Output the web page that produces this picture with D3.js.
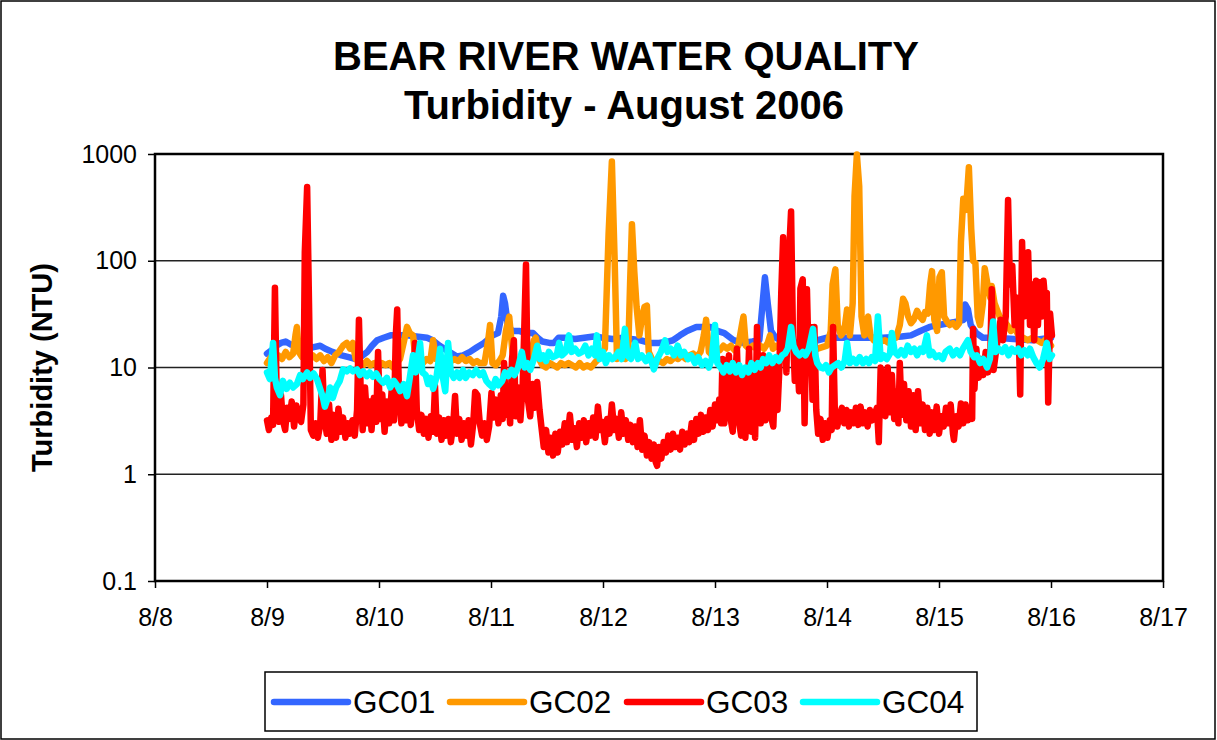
<!DOCTYPE html>
<html>
<head>
<meta charset="utf-8">
<script src="https://cdn.jsdelivr.net/npm/d3@7"></script>
<style>
  body { margin: 0; background: #fff; }
  svg { display: block; font-family: "Liberation Sans", Arial, sans-serif; }
</style>
</head>
<body>
<div id="chart"></div>
<script>
// readings: [hours after 8/9 00:00, turbidity NTU]
const gc01 = [[0,13.5],[1,14.5],[2,16],[3,17],[4,17.5],[5,16.5],[6,16],[8,15.5],[10,15.5],[11.4,16],[12.5,15],[14,14],[16,13],[17.5,12.5],[19,12],[20,12.5],[21.5,14],[22.5,16],[23.6,18],[25,19],[26.5,20],[28.5,20],[30,20],[32,19.5],[34.3,19],[35.5,18],[37,16],[38.5,14.5],[40.7,12.7],[42,13],[43.5,14],[45,15.5],[46.5,17],[48.4,20],[49.5,21],[50.2,30],[50.6,47],[51,40],[51.6,25],[52.5,22],[54,22],[55.5,21],[57,21],[58,19],[59,17.5],[60.5,17],[61.5,17],[62.5,19],[64,19],[66,18.5],[68,19],[70,19.5],[72,19],[74,18.5],[76.3,19],[78,18.5],[80,18],[82,17],[84,17],[86,17.5],[87,18],[88.5,20],[90,22],[92,24],[94,24],[95,24],[96.5,22],[98,21],[100,18],[102,17],[104,17.5],[105.5,18],[106.2,40],[106.7,70],[107.3,40],[108,22],[109,19],[110,18],[112,17.5],[114,17],[116,17.5],[118,18],[120,19],[124,19],[128,19],[132,19],[136,19.5],[138,20],[140,22],[142,24],[144,25],[146,26],[148,27],[149.3,28],[149.6,39],[150.2,35],[150.8,25],[152,21],[153.4,19],[156,19],[160,18.5],[164,18],[168,19]];

const gc02 = [[0,11],[0.8,12.5],[1.6,11.5],[2.4,13],[3.2,12],[4,14],[4.8,12.5],[5.6,13.5],[6.1,20],[6.4,24],[6.8,14],[7.5,12.5],[8.3,13.5],[9,12],[9.8,13],[10.6,12],[11.4,13],[12.2,11.5],[13,12.5],[13.8,11],[14.6,13],[15.4,14],[16.3,16],[17.1,17],[17.8,15],[18.4,17],[19,12],[19.8,11.5],[20.6,10.5],[21.4,11.5],[22.2,10.5],[23,11],[23.8,10],[24.6,11],[25.4,10.5],[26.2,11],[27,10],[27.8,11],[28.5,12],[29.4,18],[30,24],[30.6,21],[31.3,20],[31.8,12],[32.6,11.5],[33.4,11],[34.2,12],[35,11.5],[35.6,18],[36.2,12],[37,12.5],[37.8,11],[38.6,12.5],[39.4,11.5],[40.2,12],[41,11.5],[41.8,12.5],[42.6,11.5],[43.4,12],[44.2,11],[45,11.5],[45.6,11],[46.6,11],[47.4,18],[47.8,25],[48.3,11],[49,10.5],[49.8,11.5],[50.5,13],[51.2,22],[51.9,30],[52.6,14],[53.3,11],[54.1,11.5],[54.9,12],[55.7,11],[56.5,13],[57.2,18],[57.6,19],[58.3,12],[59,10.5],[59.8,10],[60.6,11],[61.4,10.5],[62.2,10],[63,11],[63.8,10.5],[64.6,11],[65.4,10.5],[66.2,10],[67,11],[67.8,10],[68.6,10.5],[69.4,10],[70.2,11],[71,12],[71.8,14],[72.4,15],[73.2,180],[73.9,850],[74.5,100],[75,12],[75.6,14],[76.1,17],[76.8,12],[77.4,14],[77.8,60],[78.2,220],[78.7,80],[79.2,37],[79.8,20],[80.4,30],[80.9,37],[81.4,38],[81.8,14],[82.5,12],[83.3,11],[84.1,11.5],[84.9,11],[85.7,12],[86.5,11.5],[87.3,12.5],[88.1,12],[88.9,13],[89.7,12],[90.5,13],[91.3,13.5],[92.1,12.5],[92.9,14],[93.6,20],[94.1,28],[94.7,14],[95.4,13],[96.2,15],[97,14.5],[97.8,16],[98.6,15],[99.4,16],[100.2,14.5],[101,16],[101.7,24],[102.1,30],[102.6,16],[103.3,15],[104.1,16],[104.9,15],[105.7,16],[106.5,15],[107.3,17],[107.8,20],[108.4,15],[109.2,16],[110,15],[111,16],[112,15.5],[113,16],[114,15],[115,16],[116,15.5],[117,16],[118,15],[119,15.5],[120,16],[120.8,22],[121.2,60],[121.8,83],[122.3,25],[123,20],[123.7,22],[124.3,35],[124.9,20],[125.5,40],[125.9,400],[126.4,990],[126.9,500],[127.4,30],[128,20],[128.5,25],[128.8,30],[129.3,20],[130,18],[130.8,19],[131.6,17.5],[132.4,18],[133.2,17],[134,18.5],[134.8,19],[135.6,25],[136.3,44],[136.8,40],[137.4,30],[138,26],[138.6,28],[139.3,34],[139.9,30],[140.5,28],[141,33],[141.6,32],[142.1,60],[142.5,80],[143,28],[143.6,22],[144.1,70],[144.6,78],[145.1,30],[145.7,27],[146.3,25],[147,26],[147.7,24],[148.3,26],[148.7,150],[149.2,380],[149.8,300],[150.4,750],[150.9,200],[151.3,100],[151.8,95],[152.3,30],[152.8,25],[153.4,40],[153.8,85],[154.4,60],[155,45],[155.3,58],[155.9,40],[156.4,35],[157,30],[157.8,28],[158.6,25],[159.4,22],[160.2,24],[161,20],[162,19],[163,18],[164,19],[165,18],[166,17],[167,18.5],[168,16]];

const gc03 = [[0,3.2],[0.4,2.6],[0.9,3.4],[1.3,2.9],[1.7,56],[2.1,4.6],[2.6,3.1],[3,5.5],[3.4,3.2],[3.9,2.6],[4.3,4.2],[4.8,3.3],[5.3,4.8],[5.8,2.8],[6.3,4.4],[6.8,3.4],[7.3,3.1],[7.8,4.5],[8.1,120],[8.6,490],[9,40],[9.4,2.6],[9.9,2.3],[10.4,3.0],[10.9,2.2],[11.4,2.9],[11.9,9.5],[12.3,3.4],[12.8,2.4],[13.3,4.5],[13.8,2.1],[14.3,3.6],[14.8,2.2],[15.3,4.1],[15.8,2.5],[16.3,3.4],[16.8,2.2],[17.3,3.0],[17.8,2.4],[18.3,3.2],[18.8,2.3],[19.3,4.0],[19.7,28],[20.1,5.5],[20.5,2.6],[21,6.5],[21.5,3.0],[22,4.8],[22.4,2.6],[22.9,5.2],[23.4,3.1],[23.8,14],[24.2,3.3],[24.7,5.6],[25.2,2.5],[25.7,4.8],[26.2,3.0],[26.7,6.0],[27.2,3.2],[27.6,20],[27.9,35],[28.3,5.0],[28.8,3.0],[29.3,6.5],[29.8,3.2],[30.3,5.5],[30.8,2.9],[31.3,4.5],[31.7,17],[32.1,4.0],[32.6,2.6],[33.1,3.6],[33.6,2.4],[34.1,3.3],[34.6,2.2],[35.1,3.5],[35.6,2.5],[36,6.7],[36.4,2.4],[36.9,3.4],[37.4,2.1],[37.9,3.2],[38.4,2.3],[38.9,3.3],[39.4,2.0],[39.9,2.9],[40.3,5.4],[40.7,2.4],[41.2,3.3],[41.7,2.1],[42.2,3.0],[42.7,2.3],[43.2,3.2],[43.7,1.9],[44.2,3.0],[44.6,5.9],[45.1,5.5],[45.6,3.0],[46.1,2.3],[46.6,3.0],[47.1,2.1],[47.6,2.8],[48.1,5.8],[48.6,3.4],[49.1,5.0],[49.6,3.0],[50.1,5.5],[50.5,3.3],[50.8,11],[51.2,3.6],[51.6,6.0],[52.1,3.0],[52.5,12],[52.9,18],[53.3,3.5],[53.8,6.5],[54.3,3.2],[54.8,7],[55.2,30],[55.5,92],[55.9,5],[56.4,3.5],[56.9,7.0],[57.4,4.2],[57.9,7.3],[58.4,4.0],[58.8,2.8],[59.3,1.8],[59.8,2.6],[60.3,1.6],[60.8,2.2],[61.3,1.5],[61.8,2.4],[62.3,1.6],[62.8,2.5],[63.3,1.9],[63.8,3.0],[64.3,2.0],[64.9,3.6],[65.4,2.1],[65.9,2.7],[66.4,1.8],[66.9,3.0],[67.4,2.2],[67.9,3.2],[68.4,2.0],[68.9,3.0],[69.4,2.3],[69.9,3.4],[70.4,2.2],[70.9,4.3],[71.4,2.6],[71.9,3.1],[72.4,2.0],[72.9,3.3],[73.4,2.4],[73.9,4.5],[74.4,2.6],[74.9,3.3],[75.4,2.2],[75.9,3.8],[76.4,2.4],[76.9,3.2],[77.4,2.1],[77.9,2.9],[78.4,2.0],[78.9,2.8],[79.4,1.8],[79.9,3.2],[80.4,1.7],[80.9,2.3],[81.4,1.5],[81.9,2.0],[82.4,1.4],[82.9,1.9],[83.3,1.3],[83.6,1.2],[84,1.8],[84.5,1.4],[85,2.0],[85.5,1.6],[86,2.3],[86.5,1.7],[87,2.4],[87.5,1.8],[88,2.2],[88.5,1.7],[89,2.5],[89.5,1.9],[90,2.4],[90.5,2.0],[91,3.0],[91.5,2.1],[92,3.3],[92.5,2.4],[93,3.6],[93.5,2.5],[94,3.4],[94.5,2.6],[95,4.0],[95.5,2.8],[96,4.5],[96.5,3.2],[96.9,5.0],[97.3,3.0],[97.6,12],[98,3.0],[98.5,9.5],[99,13],[99.4,3.2],[99.8,2.5],[100.3,8],[100.7,15],[101.2,3.0],[101.6,2.3],[102,8],[102.5,2.2],[102.9,4.5],[103.3,15],[103.8,2.5],[104.2,5.0],[104.6,2.2],[105,24],[105.4,4.5],[105.8,3.0],[106.3,13],[106.8,3.2],[107.2,6.5],[107.6,12],[108,3.5],[108.5,2.8],[109,12],[109.4,4.0],[109.8,10],[110.2,50],[110.6,166],[111,25],[111.3,9],[111.8,100],[112.3,290],[112.7,20],[113.1,7.5],[113.6,13],[114,6],[114.3,55],[114.8,67],[115.2,3.0],[115.7,54],[116.1,10],[116.5,24],[116.9,5],[117.3,24],[117.7,4],[118.1,2.4],[118.6,3.3],[119.1,2.1],[119.6,3.0],[120.1,2.2],[120.6,3.2],[121,2.6],[121.3,24],[121.7,3.5],[122.2,2.8],[122.7,3.6],[123.2,4.2],[123.7,3.0],[124.2,4.0],[124.7,2.8],[125.2,3.8],[125.7,3.0],[126.2,4.2],[126.7,2.9],[127.2,4.3],[127.7,3.0],[128.2,3.8],[128.7,2.8],[129.2,4.0],[129.7,3.2],[130.2,3.6],[130.7,4.2],[131.1,2.0],[131.5,10],[132,8],[132.5,3.5],[133,10],[133.4,3.8],[133.9,8.5],[134.4,3.3],[134.9,6.0],[135.3,3.0],[135.6,11],[136,3.6],[136.5,7.0],[137,3.2],[137.5,6.0],[138,2.8],[138.5,5.5],[139,2.6],[139.5,6.0],[140,3.0],[140.5,4.5],[141,2.6],[141.5,4.2],[142,2.4],[142.5,3.8],[143,2.6],[143.5,4.3],[144,2.4],[144.5,3.5],[145,2.8],[145.5,4.2],[146,3.0],[146.5,4.5],[147,2.4],[147.2,2.1],[147.7,3.5],[148.2,2.8],[148.7,4.6],[149.2,3.0],[149.7,4.5],[150.2,3.2],[150.7,4.0],[151.1,3.3],[151.3,23],[151.6,6.3],[152,15],[152.5,8],[153,12],[153.5,8.5],[154,14],[154.5,9],[155,13],[155.3,54],[155.7,9.5],[156.2,14],[156.7,20],[157.2,28],[157.7,18],[158.3,30],[158.8,370],[159.2,60],[159.7,90],[160.2,25],[160.7,45],[161.1,20],[161.4,5.6],[161.8,150],[162.2,30],[162.7,70],[163.1,120],[163.5,25],[164,60],[164.4,18],[164.8,65],[165.2,25],[165.6,63],[166,30],[166.4,65],[166.9,35],[167.1,50],[167.4,4.7],[167.8,32],[168.2,20]];

const gc04 = [[0,9],[0.6,7.8],[1.3,17],[1.7,8],[2.1,6.5],[2.8,5.5],[3.4,7.5],[4.2,6.3],[4.9,7.2],[5.6,6.5],[6.4,7],[7.1,8.5],[7.7,7.8],[8.6,9],[9.2,8],[10,8.8],[10.7,7.8],[11.4,6.3],[12,5.2],[12.4,4.3],[12.9,5],[13.5,6.5],[14.1,5.2],[14.8,6.5],[15.6,7.5],[16.3,9.6],[17.1,9.2],[17.8,9.8],[18.4,9.2],[19.3,9.6],[19.9,8.5],[20.6,9.2],[21.4,8.3],[22,9],[22.7,8.2],[23.4,8.8],[24.1,7.8],[24.9,7.2],[25.7,8],[26.4,6.5],[27.2,7.5],[27.9,6.8],[28.5,6],[29.3,7],[30,5.4],[30.6,8],[31.3,13],[31.9,9],[32.8,17],[33.3,9],[34,8.5],[34.5,7],[35.1,8],[35.6,6.3],[36.3,8],[37.1,15],[37.7,8],[38.2,6],[38.8,17],[39.4,9],[40,8],[40.7,9],[41.3,8],[42,9.5],[42.6,8],[43.3,9],[44.1,8.5],[44.8,9.5],[45.6,8.5],[46.3,9],[47,7.5],[47.6,7],[48.4,6.5],[49,7.8],[49.6,6.8],[50.4,7.5],[51,9],[51.7,8.3],[52.4,9.5],[53,8.5],[53.8,10],[54.6,14],[55.2,10],[55.8,11],[56.4,9.5],[57.2,12],[57.9,16],[58.5,12],[59.2,13],[59.8,11.5],[60.4,14],[61.2,12.5],[62.1,13],[62.6,17],[63.2,13],[64,14],[64.7,20],[65.3,14],[66,15],[66.8,13.5],[67.5,14],[68.2,16],[68.9,13],[69.6,15],[70.3,13],[70.7,20],[71.3,12],[72,14],[72.6,11],[73.3,13],[74,12],[74.6,12.5],[75.3,14],[76,12],[76.7,23],[77.2,13],[78,12],[78.9,17],[79.5,12],[80.3,13],[81.2,11.5],[81.9,13],[82.5,11],[82.9,9.6],[83.6,12],[84.4,14],[85.3,18],[85.8,14],[86.5,15],[87.2,13],[88,16],[88.7,13],[89.4,14],[90.2,12],[90.9,13],[91.7,11],[92.4,12.5],[93.2,10.5],[94,11.5],[94.7,10],[95.3,12],[96,25],[96.5,11],[97.2,10],[97.8,9],[98.5,10.5],[99.2,9.2],[99.8,11],[100.5,9],[101.2,10.5],[101.8,8.5],[102.5,10],[103.2,9],[103.8,11],[104.5,9.5],[105.2,11],[105.8,10],[106.3,12],[107,11],[107.6,13],[108.3,11],[109,12.5],[109.7,11.5],[110.4,13],[111,13.5],[111.6,15],[112.3,24],[112.8,16],[113.4,14],[114.1,13],[114.8,14],[115.4,13],[116.1,15],[117,23],[117.5,13],[117.9,11],[118.6,10],[119.2,9.8],[119.8,10.5],[120.4,9],[121,10],[121.7,10.5],[122.4,11],[123.1,10],[123.8,11.5],[124.3,17],[124.9,11],[125.6,12],[126.3,11],[127,12.5],[127.7,11],[128.4,12],[129,11],[129.6,12.5],[130.3,11.5],[130.9,30],[131.5,12],[132.2,13],[132.8,12],[133.5,13.5],[133.9,21],[134.5,14],[135.2,13],[135.9,14.5],[136.6,13],[137.3,16],[138,14],[138.7,15],[139.3,13],[140,15],[140.6,14],[141.4,20],[142,13],[142.6,14],[143.3,12.5],[144,13],[144.8,12],[145.4,14],[146.3,15],[147,13],[147.8,14.5],[148.5,13],[149.1,15],[150.2,18],[150.8,14],[151.5,12.5],[152.1,13],[152.8,11],[153.5,12],[154.3,10],[154.9,12],[155.6,27],[156.1,14],[156.8,15],[157.5,14],[158.2,15.5],[158.9,13],[159.6,15],[160.3,14],[161,15],[161.6,13],[162.3,14.5],[163,13],[163.5,15],[164.2,12.5],[164.9,11],[165.6,10],[166.3,12],[167.1,17],[167.7,12],[168.2,13]];

const seriesNames = ["GC01", "GC02", "GC03", "GC04"];
const seriesColors = ["#3366ff", "#ff9900", "#ff0000", "#00ffff"];
const yTicks = [0.1, 1, 10, 100, 1000];
const xDays = [8, 9, 10, 11, 12, 13, 14, 15, 16, 17];

const W = 1217, H = 740;
const margin = {top: 154, left: 155};
const width = 1008, height = 427;

const svg = d3.select("#chart").append("svg")
    .attr("width", W)
    .attr("height", H);

// outer chart border
svg.append("rect")
    .attr("x", 1).attr("y", 1)
    .attr("width", W - 3).attr("height", H - 2)
    .attr("fill", "none")
    .attr("stroke", "#000")
    .attr("stroke-width", 1.5);

const chart = svg.append("g")
    .attr("transform", "translate(" + margin.left + "," + margin.top + ")");

const t0 = new Date(2006, 7, 9);
function at(h) { return new Date(t0.getTime() + h * 3600000); }

const x = d3.scaleTime()
    .domain([new Date(2006, 7, 8), new Date(2006, 7, 17)])
    .range([0, width]);

const y = d3.scaleLog()
    .domain([0.1, 1000])
    .range([height, 0]);

// gridlines
chart.append("g")
  .selectAll("line")
  .data(yTicks.slice(1, -1))
  .enter().append("line")
    .attr("x1", 0).attr("x2", width)
    .attr("y1", d => y(d)).attr("y2", d => y(d))
    .attr("stroke", "#222")
    .attr("stroke-width", 1.5);

// axes
const yAxis = chart.append("g")
    .call(d3.axisLeft(y).tickValues(yTicks).tickFormat(d3.format("~g")).tickSize(7).tickPadding(11));
yAxis.select(".domain").remove();
yAxis.selectAll("line").attr("stroke", "#000").attr("stroke-width", 1.5);
yAxis.selectAll("text")
    .attr("font-size", 25)
    .attr("font-family", "Liberation Sans, Arial, sans-serif")
    .attr("fill", "#000");

const xAxis = chart.append("g")
    .attr("transform", "translate(0," + height + ")")
    .call(d3.axisBottom(x)
      .tickValues(xDays.map(d => new Date(2006, 7, d)))
      .tickFormat(d3.timeFormat("%-m/%-d"))
      .tickSize(7));
xAxis.select(".domain").remove();
xAxis.selectAll("line").attr("stroke", "#000").attr("stroke-width", 1.5);
xAxis.selectAll("text")
    .attr("font-size", 25)
    .attr("font-family", "Liberation Sans, Arial, sans-serif")
    .attr("fill", "#000")
    .attr("y", 45)
    .attr("dy", 0);

// plot frame
chart.append("rect")
    .attr("width", width).attr("height", height)
    .attr("fill", "none")
    .attr("stroke", "#000")
    .attr("stroke-width", 2.5);

// series
const line = d3.line()
    .x(d => x(at(d[0])))
    .y(d => y(d[1]));

const allSeries = [gc01, gc02, gc03, gc04];

chart.append("g")
  .selectAll("path")
  .data(allSeries)
  .enter().append("path")
    .attr("d", line)
    .attr("fill", "none")
    .attr("stroke", (d, i) => seriesColors[i])
    .attr("stroke-width", 6.5)
    .attr("stroke-linejoin", "round")
    .attr("stroke-linecap", "round");

// titles
svg.append("text")
    .attr("x", 626).attr("y", 70)
    .attr("text-anchor", "middle")
    .attr("font-size", 40)
    .attr("font-weight", "bold")
    .text("BEAR RIVER WATER QUALITY");

svg.append("text")
    .attr("x", 624).attr("y", 119)
    .attr("text-anchor", "middle")
    .attr("font-size", 40)
    .attr("font-weight", "bold")
    .text("Turbidity - August 2006");

svg.append("text")
    .attr("transform", "translate(52," + (margin.top + y(10)) + ") rotate(-90)")
    .attr("text-anchor", "middle")
    .attr("font-size", 29)
    .attr("font-weight", "bold")
    .text("Turbidity (NTU)");

// legend
const legendX = [274, 450, 627, 803];
const legend = svg.append("g");
legend.append("rect")
    .attr("x", 265).attr("y", 672)
    .attr("width", 712).attr("height", 59)
    .attr("fill", "#fff")
    .attr("stroke", "#000")
    .attr("stroke-width", 1.5);

const items = legend.selectAll("g.item")
  .data(seriesNames)
  .enter().append("g")
    .attr("class", "item")
    .attr("transform", (d, i) => "translate(" + legendX[i] + ",702)");

items.append("line")
    .attr("x1", 0).attr("x2", 74)
    .attr("stroke", (d, i) => seriesColors[i])
    .attr("stroke-width", 6.5)
    .attr("stroke-linecap", "round");

items.append("text")
    .attr("x", 79)
    .attr("dy", "0.36em")
    .attr("font-size", 31.5)
    .text(d => d);
</script>
</body>
</html>
